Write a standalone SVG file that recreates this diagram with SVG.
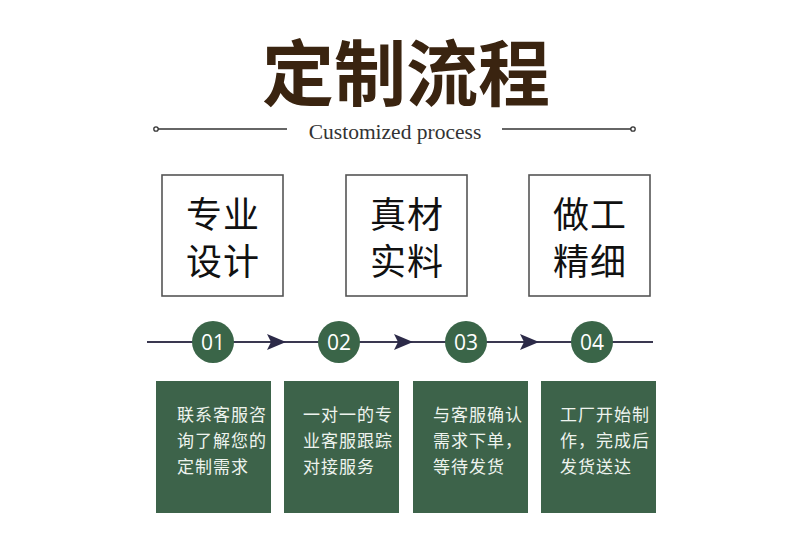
<svg xmlns="http://www.w3.org/2000/svg" width="790" height="549" viewBox="0 0 790 549">
<defs>
<style>
.title{font-family:"Noto Sans CJK SC","Noto Sans",sans-serif;font-weight:700;font-size:72px;fill:#3a2410}
.sub{font-family:"Liberation Serif","DejaVu Serif",serif;font-size:21.5px;fill:#333}
.deco{stroke:#333;stroke-width:1.3;fill:none}
.box{fill:#fff;stroke:#555;stroke-width:1.6}
.boxt{font-family:"Noto Sans CJK SC",sans-serif;font-size:36px;fill:#111;letter-spacing:1px}
.circ{fill:#3a6548}
.num{font-family:"Open Sans","Liberation Sans",sans-serif;font-size:21px;fill:#fff;text-anchor:middle}
.card{fill:#3d634a}
.cardt{font-family:"Noto Sans CJK SC",sans-serif;font-size:17px;fill:#eef3ee;letter-spacing:1px}
.tl{stroke:#3a3850;stroke-width:2;fill:none}
.arr{fill:#2c2a48}
</style>
</defs>
<rect width="790" height="549" fill="#fff"/>
<g id="title">
<text class="title" x="406" y="100" text-anchor="middle">定制流程</text>
<line class="deco" x1="158" y1="129" x2="287" y2="129"/>
<circle class="deco" cx="156" cy="129" r="2.2"/>
<line class="deco" x1="502" y1="129" x2="631" y2="129"/>
<circle class="deco" cx="633" cy="129" r="2.2"/>
<text class="sub" x="395" y="139" text-anchor="middle">Customized process</text>
</g>
<g id="feature1">
<rect class="box" x="162" y="175" width="121" height="121"/>
<text class="boxt" x="223" y="228" text-anchor="middle">专业</text>
<text class="boxt" x="223" y="275" text-anchor="middle">设计</text>
</g>
<g id="feature2">
<rect class="box" x="346" y="175" width="121" height="121"/>
<text class="boxt" x="407" y="228" text-anchor="middle">真材</text>
<text class="boxt" x="407" y="275" text-anchor="middle">实料</text>
</g>
<g id="feature3">
<rect class="box" x="529" y="175" width="121" height="121"/>
<text class="boxt" x="590" y="228" text-anchor="middle">做工</text>
<text class="boxt" x="590" y="275" text-anchor="middle">精细</text>
</g>
<g id="connectors">
<line class="tl" x1="147" y1="342" x2="653" y2="342"/>
<path class="arr" d="M267,334 L286,342 L267,350 L271,342 Z"/>
<path class="arr" d="M394,334 L413,342 L394,350 L398,342 Z"/>
<path class="arr" d="M520,334 L539,342 L520,350 L524,342 Z"/>
</g>
<g id="step1">
<circle class="circ" cx="213" cy="342" r="21"/>
<text class="num" x="213" y="349.5">01</text>
</g>
<g id="step2">
<circle class="circ" cx="339" cy="342" r="21"/>
<text class="num" x="339" y="349.5">02</text>
</g>
<g id="step3">
<circle class="circ" cx="466" cy="342" r="21"/>
<text class="num" x="466" y="349.5">03</text>
</g>
<g id="step4">
<circle class="circ" cx="592" cy="342" r="21"/>
<text class="num" x="592" y="349.5">04</text>
</g>
<g id="card1">
<rect class="card" x="156" y="381" width="115" height="132"/>
<text class="cardt" x="177" y="421">联系客服咨</text>
<text class="cardt" x="177" y="447">询了解您的</text>
<text class="cardt" x="177" y="473">定制需求</text>
</g>
<g id="card2">
<rect class="card" x="284" y="381" width="115" height="132"/>
<text class="cardt" x="303" y="421">一对一的专</text>
<text class="cardt" x="303" y="447">业客服跟踪</text>
<text class="cardt" x="303" y="473">对接服务</text>
</g>
<g id="card3">
<rect class="card" x="413" y="381" width="115" height="132"/>
<text class="cardt" x="433" y="421">与客服确认</text>
<text class="cardt" x="433" y="447">需求下单，</text>
<text class="cardt" x="433" y="473">等待发货</text>
</g>
<g id="card4">
<rect class="card" x="541" y="381" width="115" height="132"/>
<text class="cardt" x="560" y="421">工厂开始制</text>
<text class="cardt" x="560" y="447">作，完成后</text>
<text class="cardt" x="560" y="473">发货送达</text>
</g>
</svg>
